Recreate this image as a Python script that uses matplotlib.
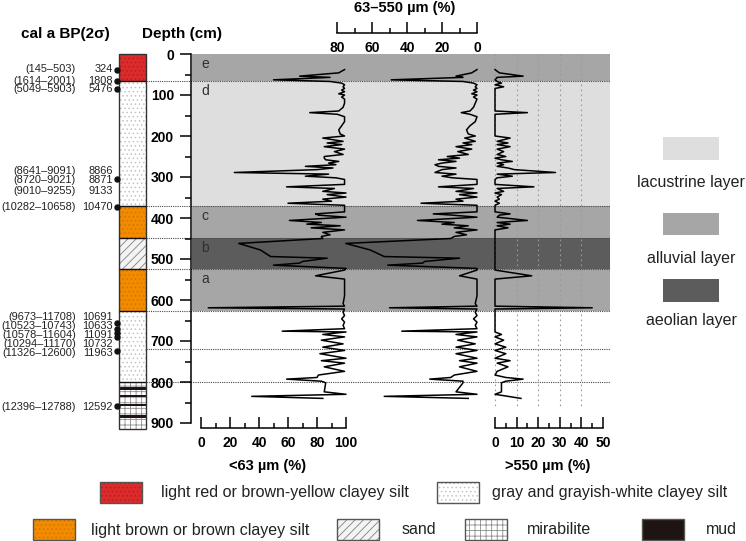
import matplotlib
matplotlib.use('Agg')
import matplotlib.pyplot as plt
from matplotlib.patches import Rectangle
from matplotlib.ticker import MultipleLocator
import matplotlib.transforms as mtransforms
from matplotlib import font_manager

plt.rcParams['font.family'] = ['Liberation Sans', 'DejaVu Sans']
plt.rcParams['hatch.linewidth'] = 0.6

# ---------------- data ----------------
depth = [38, 46, 54, 57, 63, 67, 71, 75, 80, 84, 88, 92, 97, 100, 105, 110, 120, 130, 139, 143, 147, 153,
         165, 175, 185, 195, 200, 205, 213, 217, 221, 226, 232, 238, 245, 250, 254, 258, 262, 266, 270,
         274, 278, 282, 289, 293, 298, 302, 306, 318, 324, 328, 335, 339, 343, 349, 354, 359, 364, 369,
         385, 390, 393, 398, 406, 411, 415, 419, 424, 429, 435, 441, 445, 450,
         462, 478, 494, 498, 506, 510, 515, 523,
         527, 541, 549, 570, 590, 609, 615, 619, 622, 630, 638, 646, 654, 662, 670, 676, 678, 684, 690,
         698, 707, 715, 723, 731, 742, 748, 754, 763, 774, 783, 789, 793, 798, 802, 824, 830, 835, 840]

fine = [99, 95, 68, 89, 50, 89, 97, 99, 98, 99, 97, 99, 95, 99, 97, 99, 99, 98, 95, 75, 94, 99,
        99, 97, 95, 96, 99, 84, 98, 87, 97, 85, 99, 92, 98, 85, 85, 86, 95, 88, 93,
        72, 91, 80, 23, 88, 72, 93, 99, 99, 59, 92, 84, 100, 87, 100, 84, 90, 60, 99,
        99, 79, 81, 100, 61, 83, 73, 96, 76, 99, 84, 89, 83, 84,
        26, 41, 48, 87, 70, 68, 50, 100,
        99, 79, 99, 99, 99, 98, 99, 5, 99, 98, 99, 97, 99, 98, 99, 56, 100, 84, 99,
        83, 98, 84, 99, 82, 100, 83, 99, 85, 99, 81, 80, 59, 83, 86, 85, 100, 35, 84]

medium = [0, 3, 12, 8, 49, 8, 2, 0, 1, 0, 2, 0, 3, 0, 2, 0, 1, 2, 4, 9, 4, 0,
          1, 4, 6, 5, 1, 7, 1, 8, 3, 12, 3, 11, 5, 17, 10, 22, 12, 20, 24,
          22, 12, 20, 24, 12, 20, 14, 0, 0, 22, 2, 12, 0, 10, 0, 12, 8, 32, 0,
          0, 25, 14, 0, 34, 13, 20, 5, 13, 0, 12, 6, 13, 15,
          75, 61, 53, 10, 30, 31, 51, 0,
          0, 10, 0, 0, 0, 1, 0, 50, 0, 1, 0, 2, 0, 1, 0, 43, 0, 12, 0,
          11, 1, 12, 0, 12, 0, 10, 0, 10, 0, 13, 15, 27, 8, 8, 12, 0, 53, 5]

coarse = [0, 2, 13, 1, 0, 1, 3, 0, 4, 0, 0, 0, 0, 0, 0, 0, 0, 0, 0, 15, 0, 0,
          0, 0, 0, 0, 0, 7, 1, 6, 1, 7, 1, 4, 1, 5, 0, 3, 8, 1, 4,
          1, 6, 9, 28, 1, 8, 1, 0, 0, 18, 1, 4, 0, 3, 1, 2, 0, 2, 0,
          0, 7, 2, 1, 15, 1, 7, 1, 6, 0, 0, 0, 0, 0,
          0, 0, 0, 0, 0, 0, 0, 0,
          0, 17, 0, 0, 0, 0, 0, 45, 0, 0, 0, 0, 0, 0, 0, 0, 0, 3, 0,
          4, 0, 5, 0, 5, 0, 7, 1, 6, 1, 0, 5, 13, 5, 3, 3, 0, 6, 12]

zone_names = ['e', 'd', 'c', 'b', 'a']
zone_tops = [0, 66, 371, 449, 524]
zone_bots = [66, 371, 449, 524, 628]
zone_types = ['alluvial', 'lacustrine', 'alluvial', 'aeolian', 'alluvial']
extra_lines = [720, 800]

layer_names = ['lacustrine layer', 'alluvial layer', 'aeolian layer']
layer_colors = {'lacustrine': '#dedede', 'alluvial': '#a6a6a6', 'aeolian': '#5c5c5c'}

lith_tops = [0, 66, 371, 449, 524, 628, 800]
lith_bots = [66, 371, 449, 524, 628, 800, 915]
lith_types = ['red', 'gray', 'brown', 'sand', 'brown', 'gray', 'mirabilite']
mud_bands = [815, 834, 856, 885]

date_dot_depths = [38, 66, 85, 304, 372, 657, 670, 680, 691, 724, 859]
date_ages = ['324', '1808', '5476', '8866', '8871', '9133', '10470',
             '10691', '10633', '11091', '10732', '11963', '12592']
date_ranges = ['(145–503)', '(1614–2001)', '(5049–5903)', '(8641–9091)', '(8720–9021)',
               '(9010–9255)', '(10282–10658)', '(9673–11708)', '(10523–10743)',
               '(10578–11604)', '(10294–11170)', '(11326–12600)', '(12396–12788)']
date_label_depths = [37, 65, 86, 285, 308, 333, 372, 642, 664, 686, 708, 730, 860]

lith_legend = [('red', 'light red or brown-yellow clayey silt'),
               ('gray', 'gray and grayish-white clayey silt'),
               ('brown', 'light brown or brown clayey silt'),
               ('sand', 'sand'), ('mirabilite', 'mirabilite'), ('mud', 'mud')]

# ---------------- layout ----------------
W, H = 746, 541
fig = plt.figure(figsize=(W / 100, H / 100), dpi=100)
PT = 0.72  # points per pixel at 100 dpi


def rect(x0, y0, x1, y1):
    return [x0 / W, 1 - y1 / H, (x1 - x0) / W, (y1 - y0) / H]


Y0, Y900 = 54, 423
YB = 428
D_BOT = 900 * (YB - Y0) / (Y900 - Y0)

styles = {
    'red': dict(fc='#dc2b2b', hatch='....', hc='#b81e1e'),
    'gray': dict(fc='white', hatch='....', hc='#c4c4c4'),
    'brown': dict(fc='#f28b00', hatch='....', hc='#d27400'),
    'sand': dict(fc='#f4f4f4', hatch='////', hc='#808080'),
    'mirabilite': dict(fc='white', hatch='+++', hc='#8c8c8c'),
    'mud': dict(fc='#1e1414', hatch=None, hc='#1e1414'),
}

narrow = ['Liberation Sans Narrow', 'Liberation Sans', 'DejaVu Sans']
try:
    font_manager.findfont('Liberation Sans Narrow', fallback_to_default=False)
    leg_fs = 12.5
except Exception:
    narrow = ['Liberation Sans', 'DejaVu Sans']
    leg_fs = 11.5

# background bands
BX0, BX1 = 146, 610
ax_bg = fig.add_axes(rect(BX0, Y0, BX1, YB))
ax_bg.set_xlim(0, 1)
ax_bg.set_ylim(D_BOT, 0)
ax_bg.axis('off')
fx = lambda p: (p - BX0) / (BX1 - BX0)
btr = mtransforms.blended_transform_factory(ax_bg.transAxes, ax_bg.transData)
for nm, t, b, ty in zip(zone_names, zone_tops, zone_bots, zone_types):
    ax_bg.axhspan(t, b, xmin=fx(192), xmax=1, color=layer_colors[ty], lw=0, zorder=0)
    ax_bg.text(fx(201), t + 24, nm, transform=btr, fontsize=10, color='#303030',
               va='center', ha='left', zorder=3)
for d in zone_tops[1:] + [zone_bots[-1]] + extra_lines:
    ax_bg.axhline(d, xmin=0, xmax=1, color='#4a4a4a', lw=0.8, ls=(0, (1, 1)), zorder=2)

# depth axis
ax_d = fig.add_axes(rect(191, Y0, 192, YB))
ax_d.set_ylim(D_BOT, 0)
ax_d.patch.set_visible(False)
for s in ['top', 'right', 'bottom']:
    ax_d.spines[s].set_visible(False)
ax_d.spines['left'].set_bounds(0, 900)
ax_d.spines['left'].set_linewidth(1.1)
ax_d.set_xticks([])
ax_d.set_yticks(range(0, 901, 100), labels=[str(v) for v in range(0, 901, 100)],
                fontsize=10, fontweight='bold')
ax_d.yaxis.set_minor_locator(MultipleLocator(50))
ax_d.tick_params(axis='y', which='major', length=11 * PT, width=1.1, pad=6 * PT)
ax_d.tick_params(axis='y', which='minor', length=6 * PT, width=1.1)

# lithology column
ax_c = fig.add_axes(rect(119, Y0, 146, YB))
ax_c.set_xlim(0, 1)
ax_c.set_ylim(D_BOT, 0)
ax_c.axis('off')
for t, b, ty in zip(lith_tops, lith_bots, lith_types):
    st = styles[ty]
    ax_c.add_patch(Rectangle((0, t), 1, b - t, facecolor=st['fc'], edgecolor=st['hc'],
                             hatch=st['hatch'], lw=0, clip_on=False))
for m in mud_bands:
    ax_c.add_patch(Rectangle((0, m - 3.5), 1, 7, facecolor=styles['mud']['fc'], lw=0,
                             clip_on=False))
ax_c.hlines(lith_tops[1:], 0, 1, color='#111111', lw=1.0, clip_on=False)
ax_c.add_patch(Rectangle((0, 0), 1, lith_bots[-1], fill=False, edgecolor='#333333', lw=1.0,
                         clip_on=False))
ax_c.plot([-0.075] * len(date_dot_depths), date_dot_depths, 'o', color='#111111', ms=3.6,
          clip_on=False)
ctr = mtransforms.blended_transform_factory(ax_c.transAxes, ax_c.transData)
cx = lambda p: (p - 119) / 27
for age, rng, dl in zip(date_ages, date_ranges, date_label_depths):
    ax_c.text(cx(113), dl, age, transform=ctr, ha='right', va='center', fontsize=7.9,
              color='#222222')
    ax_c.text(cx(76), dl, rng, transform=ctr, ha='right', va='center', fontsize=7.9,
              color='#222222')

# curves
def curve_ax(x0, x1, lim):
    ax = fig.add_axes(rect(x0, Y0, x1, YB))
    ax.set_xlim(*lim)
    ax.set_ylim(D_BOT, 0)
    ax.axis('off')
    return ax

ax1 = curve_ax(201, 346, (0, 100))
ax1.plot(fine, depth, color='black', lw=1.1, clip_on=False)
ax2 = curve_ax(337, 477, (80, 0))
ax2.plot(medium, depth, color='black', lw=1.1, clip_on=False)
ax3 = curve_ax(495, 603, (0, 50))
ax3.vlines(range(0, 51, 10), 0, 865, colors='#9a9a9a', linestyles=(0, (1.5, 3)), lw=0.8, zorder=1)
ax3.plot(coarse, depth, color='black', lw=1.1, clip_on=False, zorder=2)

# scale axes
def scale_ax(x0, y0, x1, y1, lim, major, minor):
    ax = fig.add_axes(rect(x0, y0, x1, y1))
    ax.set_xlim(*lim)
    ax.patch.set_visible(False)
    for s in ['top', 'right', 'left']:
        ax.spines[s].set_visible(False)
    ax.spines['bottom'].set_linewidth(1.1)
    ax.set_yticks([])
    lo, hi = min(lim), max(lim)
    ticks = list(range(lo, hi + 1, major))
    ax.set_xticks(ticks, labels=[str(t) for t in ticks], fontsize=10, fontweight='bold')
    ax.xaxis.set_minor_locator(MultipleLocator(minor))
    ax.tick_params(axis='x', which='major', direction='in', length=11 * PT, width=1.1,
                   pad=8 * PT)
    ax.tick_params(axis='x', which='minor', direction='in', length=5 * PT, width=1.1)
    return ax

scale_ax(201, 417, 346, 428, (0, 100), 20, 10)
scale_ax(495, 417, 603, 428, (0, 50), 10, 5)
scale_ax(337, 22, 477, 33, (80, 0), 20, 10)

# overlay for texts and legends
ov = fig.add_axes([0, 0, 1, 1])
ov.set_xlim(0, W)
ov.set_ylim(H, 0)
ov.axis('off')

ov.text(65, 34, 'cal a BP(2σ)', ha='center', va='center', fontsize=11, fontweight='bold')
ov.text(182, 34, 'Depth (cm)', ha='center', va='center', fontsize=11, fontweight='bold')
ov.text(405, 8, '63–550 µm (%)', ha='center', va='center', fontsize=10.5, fontweight='bold')
ov.text(268, 466, '<63 µm (%)', ha='center', va='center', fontsize=10.5, fontweight='bold')
ov.text(548, 466, '>550 µm (%)', ha='center', va='center', fontsize=10.5, fontweight='bold')

for (yb0, yb1, yt), nm, key in zip([(137, 160, 183), (213, 235, 258), (279, 302, 320)],
                                   layer_names, ['lacustrine', 'alluvial', 'aeolian']):
    ov.add_patch(Rectangle((663, yb0), 56, yb1 - yb0, facecolor=layer_colors[key], lw=0))
    ov.text(691, yt, nm, ha='center', va='center', fontsize=11.5, color='#222222')

leg_pos = [(100, 482, 161), (437, 482, 492), (33, 519, 91), (337, 519, 402), (465, 519, 527),
           (642, 519, 706)]
for (bx, by, tx), (key, lab) in zip(leg_pos, lith_legend):
    st = styles[key]
    ov.add_patch(Rectangle((bx, by), 42, 21, facecolor=st['fc'], edgecolor=st['hc'],
                           hatch=st['hatch'], lw=0))
    ov.add_patch(Rectangle((bx, by), 42, 21, fill=False, edgecolor='#555555', lw=1.0))
    ov.text(tx, by + 11, lab, ha='left', va='center', fontsize=leg_fs, family=narrow,
            color='#222222')

fig.savefig('out.png', dpi=100)
